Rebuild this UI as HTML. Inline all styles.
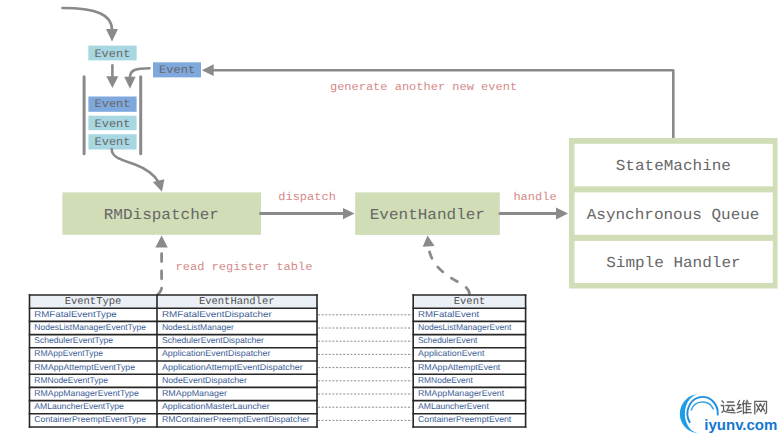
<!DOCTYPE html>
<html><head><meta charset="utf-8"><style>
html,body{margin:0;padding:0;background:#fff;}
svg{display:block;} text{text-rendering:geometricPrecision;}
.m{font-family:"Liberation Mono",monospace;}
.hd{font-family:"Liberation Mono",monospace;font-size:10.5px;fill:#505050;}
.td{font-family:"Liberation Sans",sans-serif;font-size:8.5px;fill:#3b5c95;}
.ev{font-family:"Liberation Mono",monospace;fill:#666666;text-rendering:geometricPrecision;}
.red{font-family:"Liberation Mono",monospace;fill:#d48a88;}
.big{font-family:"Liberation Mono",monospace;fill:#676767;}
</style></head><body>
<svg width="784" height="441" viewBox="0 0 784 441">
<rect width="784" height="441" fill="#fff"/>
<!-- top curve arrow -->
<path d="M62.5,8 C95,8 112,14 112,30" fill="none" stroke="#8a8a8a" stroke-width="2.6" stroke-linecap="round"/>
<polygon points="106,29 118,29 112,41.4" fill="#8a8a8a"/>
<!-- event box 1 -->
<rect x="88.3" y="45.6" width="48.4" height="14.8" fill="#a7d7e1"/>
<text transform="translate(112.4,56.5) scale(1.053,1)" x="0" y="0" text-anchor="middle" class="ev" font-size="11.4">Event</text>
<!-- down arrow -->
<line x1="112.4" y1="65.4" x2="112.4" y2="77" stroke="#8a8a8a" stroke-width="2.6" stroke-linecap="round"/>
<polygon points="106.3,76.3 118.3,76.3 112.4,88.1" fill="#8a8a8a"/>
<!-- curved arrow from blue event -->
<path d="M149.5,68.3 C136,68.3 130,70 130,77" fill="none" stroke="#8a8a8a" stroke-width="2.6" stroke-linecap="round"/>
<polygon points="124.2,76.7 135.6,76.7 130,88.7" fill="#8a8a8a"/>
<!-- blue event -->
<rect x="153" y="62.3" width="48" height="15.1" fill="#7fa8dc"/>
<text transform="translate(177.1,73.0) scale(1.053,1)" x="0" y="0" text-anchor="middle" class="ev" font-size="11.4">Event</text>
<!-- long feedback arrow -->
<polyline points="673.3,138 673.3,70.2 213,70.2" fill="none" stroke="#8a8a8a" stroke-width="2.6" stroke-linejoin="round"/>
<polygon points="213.7,64.3 213.7,76.1 201.8,70.2" fill="#8a8a8a"/>
<text transform="translate(423.5,90.4) scale(1.053,1)" x="0" y="0" text-anchor="middle" class="red" font-size="11.4">generate another new event</text>
<!-- queue brackets -->
<line x1="84.1" y1="76.8" x2="84.1" y2="153.8" stroke="#8a8a8a" stroke-width="3" stroke-linecap="round"/>
<line x1="140.7" y1="76.8" x2="140.7" y2="153.8" stroke="#8a8a8a" stroke-width="3" stroke-linecap="round"/>
<rect x="88.4" y="96.5" width="48.2" height="15.3" fill="#7fa8dc"/>
<text transform="translate(112.5,107.4) scale(1.053,1)" x="0" y="0" text-anchor="middle" class="ev" font-size="11.4">Event</text>
<rect x="88.4" y="115.7" width="48.2" height="14.5" fill="#a7d7e1"/>
<text transform="translate(112.5,126.6) scale(1.053,1)" x="0" y="0" text-anchor="middle" class="ev" font-size="11.4">Event</text>
<rect x="88.4" y="134.25" width="48.2" height="15.25" fill="#a7d7e1"/>
<text transform="translate(112.5,145.15) scale(1.053,1)" x="0" y="0" text-anchor="middle" class="ev" font-size="11.4">Event</text>
<!-- S curve -->
<path d="M111.7,149 C111.7,157.5 121,159.5 135,164.5 C147,169 154,174.5 158.5,182" fill="none" stroke="#8a8a8a" stroke-width="2.6" stroke-linecap="round"/>
<polygon points="152.9,182 164.4,179.2 161.9,191.7" fill="#8a8a8a"/>
<!-- RMDispatcher -->
<rect x="62.4" y="192.4" width="198.6" height="42.4" fill="#d0ddb6"/>
<text transform="translate(161.35,218.8) scale(1.053,1)" x="0" y="0" text-anchor="middle" class="big" font-size="15.2">RMDispatcher</text>
<line x1="260.5" y1="213.5" x2="344" y2="213.5" stroke="#8a8a8a" stroke-width="3" stroke-linecap="round"/>
<polygon points="343,207.9 343,219.2 354.5,213.4" fill="#8a8a8a"/>
<text transform="translate(307.05,199.5) scale(1.053,1)" x="0" y="0" text-anchor="middle" class="red" font-size="11.4">dispatch</text>
<!-- EventHandler -->
<rect x="355.2" y="192.4" width="144.6" height="42.5" fill="#d0ddb6"/>
<text transform="translate(427.35,218.6) scale(1.053,1)" x="0" y="0" text-anchor="middle" class="big" font-size="15.2">EventHandler</text>
<line x1="500" y1="213.5" x2="557" y2="213.5" stroke="#8a8a8a" stroke-width="3" stroke-linecap="round"/>
<polygon points="556,207.6 556,219.4 568,213.4" fill="#8a8a8a"/>
<text transform="translate(535,199.5) scale(1.053,1)" x="0" y="0" text-anchor="middle" class="red" font-size="11.4">handle</text>
<!-- container -->
<rect x="569" y="138" width="208.5" height="150.5" fill="#d0ddb6"/>
<rect x="574.5" y="143.8" width="198.3" height="42.5" fill="#fff"/>
<rect x="574.5" y="192.4" width="198.3" height="42.4" fill="#fff"/>
<rect x="574.5" y="240.9" width="198.3" height="42" fill="#fff"/>
<text transform="translate(673.35,170.4) scale(1.053,1)" x="0" y="0" text-anchor="middle" class="big" font-size="15.2">StateMachine</text>
<text transform="translate(673.1,218.8) scale(1.053,1)" x="0" y="0" text-anchor="middle" class="big" font-size="15.2">Asynchronous Queue</text>
<text transform="translate(673.4,267.0) scale(1.053,1)" x="0" y="0" text-anchor="middle" class="big" font-size="15.2">Simple Handler</text>
<!-- dashed arrow 1 -->
<path d="M161.6,253.6 L161.6,288 C161.6,291.5 158.5,293 157,296" fill="none" stroke="#8a8a8a" stroke-width="2.8" stroke-linecap="round" stroke-dasharray="7.9,9.4"/>
<polygon points="155.4,247.5 167.8,247.5 161.6,235.6" fill="#8a8a8a"/>
<text transform="translate(244,269.5) scale(1.053,1)" x="0" y="0" text-anchor="middle" class="red" font-size="11.4">read register table</text>
<!-- dashed arrow 2 -->
<path d="M429.3,250.5 C432,265 445,275 458,282 C465,286 469.5,289 469.5,295" fill="none" stroke="#8a8a8a" stroke-width="2.8" stroke-linecap="round" stroke-dasharray="6.7,10.8" stroke-dashoffset="-1.4"/>
<polygon points="422.7,246.7 434.6,245.9 427.5,235.6" fill="#8a8a8a"/>
<rect x="29.5" y="295.0" width="287.5" height="13.2" fill="#ebf0f7"/>
<rect x="29.5" y="308.2" width="287.5" height="118.8" fill="#ffffff"/>
<line x1="28.75" y1="295.00" x2="317.75" y2="295.00" stroke="#262626" stroke-width="1.6"/>
<line x1="28.75" y1="308.20" x2="317.75" y2="308.20" stroke="#262626" stroke-width="1.6"/>
<line x1="28.75" y1="321.40" x2="317.75" y2="321.40" stroke="#262626" stroke-width="1.6"/>
<line x1="28.75" y1="334.60" x2="317.75" y2="334.60" stroke="#262626" stroke-width="1.6"/>
<line x1="28.75" y1="347.80" x2="317.75" y2="347.80" stroke="#262626" stroke-width="1.6"/>
<line x1="28.75" y1="361.00" x2="317.75" y2="361.00" stroke="#262626" stroke-width="1.6"/>
<line x1="28.75" y1="374.20" x2="317.75" y2="374.20" stroke="#262626" stroke-width="1.6"/>
<line x1="28.75" y1="387.40" x2="317.75" y2="387.40" stroke="#262626" stroke-width="1.6"/>
<line x1="28.75" y1="400.60" x2="317.75" y2="400.60" stroke="#262626" stroke-width="1.6"/>
<line x1="28.75" y1="413.80" x2="317.75" y2="413.80" stroke="#262626" stroke-width="1.6"/>
<line x1="28.75" y1="427.00" x2="317.75" y2="427.00" stroke="#262626" stroke-width="1.6"/>
<line x1="29.5" y1="294.25" x2="29.5" y2="427.75" stroke="#262626" stroke-width="1.6"/>
<line x1="157" y1="294.25" x2="157" y2="427.75" stroke="#262626" stroke-width="1.6"/>
<line x1="317" y1="294.25" x2="317" y2="427.75" stroke="#262626" stroke-width="1.6"/>
<text transform="translate(93,304.20) scale(1.0,1)" text-anchor="middle" class="hd">EventType</text>
<text transform="translate(236.7,304.20) scale(1.0,1)" text-anchor="middle" class="hd">EventHandler</text>
<text x="34.3" y="316.80" class="td" textLength="82.4" lengthAdjust="spacingAndGlyphs">RMFatalEventType</text>
<text x="34.3" y="330.00" class="td" textLength="111.8" lengthAdjust="spacingAndGlyphs">NodesListManagerEventType</text>
<text x="34.3" y="343.20" class="td" textLength="78.8" lengthAdjust="spacingAndGlyphs">SchedulerEventType</text>
<text x="34.3" y="356.40" class="td" textLength="68.7" lengthAdjust="spacingAndGlyphs">RMAppEventType</text>
<text x="34.3" y="369.60" class="td" textLength="100.7" lengthAdjust="spacingAndGlyphs">RMAppAttemptEventType</text>
<text x="34.3" y="382.80" class="td" textLength="73.7" lengthAdjust="spacingAndGlyphs">RMNodeEventType</text>
<text x="34.3" y="396.00" class="td" textLength="104.5" lengthAdjust="spacingAndGlyphs">RMAppManagerEventType</text>
<text x="34.3" y="409.20" class="td" textLength="89.6" lengthAdjust="spacingAndGlyphs">AMLauncherEventType</text>
<text x="34.3" y="422.40" class="td" textLength="111.7" lengthAdjust="spacingAndGlyphs">ContainerPreemptEventType</text>
<text x="161.9" y="316.80" class="td" textLength="109.9" lengthAdjust="spacingAndGlyphs">RMFatalEventDispatcher</text>
<text x="161.9" y="330.00" class="td" textLength="72" lengthAdjust="spacingAndGlyphs">NodesListManager</text>
<text x="161.9" y="343.20" class="td" textLength="102" lengthAdjust="spacingAndGlyphs">SchedulerEventDispatcher</text>
<text x="161.9" y="356.40" class="td" textLength="108.5" lengthAdjust="spacingAndGlyphs">ApplicationEventDispatcher</text>
<text x="161.9" y="369.60" class="td" textLength="140.9" lengthAdjust="spacingAndGlyphs">ApplicationAttemptEventDispatcher</text>
<text x="161.9" y="382.80" class="td" textLength="85" lengthAdjust="spacingAndGlyphs">NodeEventDispatcher</text>
<text x="161.9" y="396.00" class="td" textLength="65" lengthAdjust="spacingAndGlyphs">RMAppManager</text>
<text x="161.9" y="409.20" class="td" textLength="107.8" lengthAdjust="spacingAndGlyphs">ApplicationMasterLauncher</text>
<text x="161.9" y="422.40" class="td" textLength="147.8" lengthAdjust="spacingAndGlyphs">RMContainerPreemptEventDispatcher</text>
<rect x="413.2" y="295.0" width="112.40000000000003" height="13.2" fill="#ebf0f7"/>
<rect x="413.2" y="308.2" width="112.40000000000003" height="118.8" fill="#ffffff"/>
<line x1="412.45" y1="295.00" x2="526.35" y2="295.00" stroke="#262626" stroke-width="1.6"/>
<line x1="412.45" y1="308.20" x2="526.35" y2="308.20" stroke="#262626" stroke-width="1.6"/>
<line x1="412.45" y1="321.40" x2="526.35" y2="321.40" stroke="#262626" stroke-width="1.6"/>
<line x1="412.45" y1="334.60" x2="526.35" y2="334.60" stroke="#262626" stroke-width="1.6"/>
<line x1="412.45" y1="347.80" x2="526.35" y2="347.80" stroke="#262626" stroke-width="1.6"/>
<line x1="412.45" y1="361.00" x2="526.35" y2="361.00" stroke="#262626" stroke-width="1.6"/>
<line x1="412.45" y1="374.20" x2="526.35" y2="374.20" stroke="#262626" stroke-width="1.6"/>
<line x1="412.45" y1="387.40" x2="526.35" y2="387.40" stroke="#262626" stroke-width="1.6"/>
<line x1="412.45" y1="400.60" x2="526.35" y2="400.60" stroke="#262626" stroke-width="1.6"/>
<line x1="412.45" y1="413.80" x2="526.35" y2="413.80" stroke="#262626" stroke-width="1.6"/>
<line x1="412.45" y1="427.00" x2="526.35" y2="427.00" stroke="#262626" stroke-width="1.6"/>
<line x1="413.2" y1="294.25" x2="413.2" y2="427.75" stroke="#262626" stroke-width="1.6"/>
<line x1="525.6" y1="294.25" x2="525.6" y2="427.75" stroke="#262626" stroke-width="1.6"/>
<text transform="translate(469.5,304.20) scale(1.0,1)" text-anchor="middle" class="hd">Event</text>
<text x="418" y="316.80" class="td" textLength="61.2" lengthAdjust="spacingAndGlyphs">RMFatalEvent</text>
<text x="418" y="330.00" class="td" textLength="93.3" lengthAdjust="spacingAndGlyphs">NodesListManagerEvent</text>
<text x="418" y="343.20" class="td" textLength="59.4" lengthAdjust="spacingAndGlyphs">SchedulerEvent</text>
<text x="418" y="356.40" class="td" textLength="66.5" lengthAdjust="spacingAndGlyphs">ApplicationEvent</text>
<text x="418" y="369.60" class="td" textLength="82.3" lengthAdjust="spacingAndGlyphs">RMAppAttemptEvent</text>
<text x="418" y="382.80" class="td" textLength="54.8" lengthAdjust="spacingAndGlyphs">RMNodeEvent</text>
<text x="418" y="396.00" class="td" textLength="86.1" lengthAdjust="spacingAndGlyphs">RMAppManagerEvent</text>
<text x="418" y="409.20" class="td" textLength="70.8" lengthAdjust="spacingAndGlyphs">AMLauncherEvent</text>
<text x="418" y="422.40" class="td" textLength="93.3" lengthAdjust="spacingAndGlyphs">ContainerPreemptEvent</text>
<line x1="318" y1="314.80" x2="412" y2="314.80" stroke="#8c8c8c" stroke-width="1" stroke-dasharray="2,1.6"/>
<line x1="318" y1="328.00" x2="412" y2="328.00" stroke="#8c8c8c" stroke-width="1" stroke-dasharray="2,1.6"/>
<line x1="318" y1="341.20" x2="412" y2="341.20" stroke="#8c8c8c" stroke-width="1" stroke-dasharray="2,1.6"/>
<line x1="318" y1="354.40" x2="412" y2="354.40" stroke="#8c8c8c" stroke-width="1" stroke-dasharray="2,1.6"/>
<line x1="318" y1="367.60" x2="412" y2="367.60" stroke="#8c8c8c" stroke-width="1" stroke-dasharray="2,1.6"/>
<line x1="318" y1="380.80" x2="412" y2="380.80" stroke="#8c8c8c" stroke-width="1" stroke-dasharray="2,1.6"/>
<line x1="318" y1="394.00" x2="412" y2="394.00" stroke="#8c8c8c" stroke-width="1" stroke-dasharray="2,1.6"/>
<line x1="318" y1="407.20" x2="412" y2="407.20" stroke="#8c8c8c" stroke-width="1" stroke-dasharray="2,1.6"/>
<line x1="318" y1="420.40" x2="412" y2="420.40" stroke="#8c8c8c" stroke-width="1" stroke-dasharray="2,1.6"/>
<!-- logo -->
<g>
<path d="M699.5,394.0 A19.7,19.5 0 0 0 700,433.5 A14.8,19.6 0 0 1 699.5,394.0 Z" fill="#1d9ce8"/>
<path d="M689.71,422.30 A15.2,16.6 0 1 1 717.76,414.66" fill="none" stroke="#1f8ddf" stroke-width="1.9" stroke-linecap="round"/>
<path d="M691.22,409.90 A12,12 0 0 1 713.38,408.93" fill="none" stroke="#3aa2e6" stroke-width="1.5" stroke-linecap="round"/>
<text x="704.3" y="429.5" transform="translate(704.3,429.5) scale(1,1) translate(-704.3,-429.5)" style="font-family:'Liberation Sans',sans-serif;font-weight:bold;font-size:15px;fill:#1577d0">iyunv.com</text>
<g fill="none" stroke="#616161" stroke-width="1.3" stroke-linecap="square">
<!-- yun -->
<path d="M727.5,402 H733.5 M726,405.5 H734.5 M729.5,405.5 L727,410.5 L733.5,410 M732,408 L734,410.8"/>
<path d="M722,401 L723.5,402.5 M721.3,405.5 H723.6 V410.6 L722,412.3 M723.6,410.8 Q726,412.8 735,412.8"/>
<!-- wei -->
<path d="M739.5,400.5 L737.6,404.6 H740.5 L737.5,408.6 L741,407.8 M737.3,412.5 L741.5,411"/>
<path d="M744,400.5 L742.6,404.5 M743.4,403.5 V413.5 M746.3,402 V413 M747,400.3 L748,402 M743.8,403.6 H750.8 M746.3,406.6 H750.2 M746.3,409.5 H750.2 M743.8,412.6 H751.2"/>
<!-- wang -->
<path d="M754.8,413.8 V401.3 H766.5 V412.6 L765.2,413.6"/>
<path d="M756.6,404.5 L760.4,411 M760.2,403.8 L756.8,411.6 M760.8,404.5 L764.6,411 M764.4,403.8 L761,411.6"/>
</g>
</g>
</svg>
</body></html>
